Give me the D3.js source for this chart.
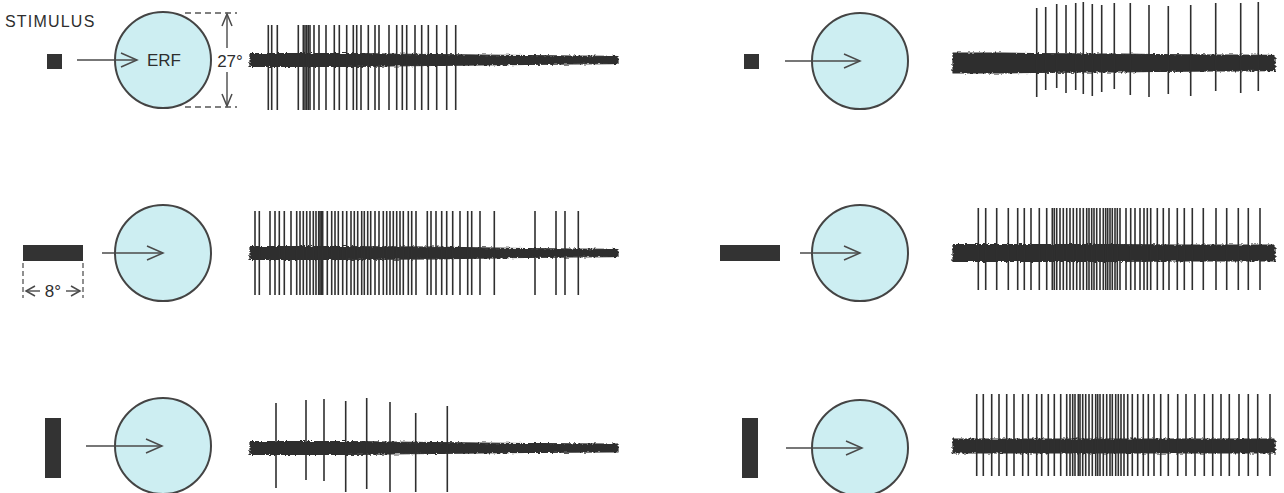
<!DOCTYPE html>
<html lang="en">
<meta charset="utf-8">
<script src="https://cdn.jsdelivr.net/npm/d3@7/dist/d3.min.js"></script>
<style>
body { margin: 0; background: #fff; }
text { font-family: "Liberation Sans", Arial, sans-serif; fill: #2e2e2e; }
</style>
<body>
<script>
// spike times in ms from sweep start
var spikesL1 = [183, 217, 273, 483, 533, 550, 567, 583, 600, 640, 690, 760, 843, 893, 967, 1033, 1067, 1110, 1183, 1250,
    1290, 1390, 1467, 1523, 1567, 1650, 1717, 1783, 1867, 1967, 2057];
var spikesL2 = [50, 93, 200, 250, 293, 343, 410, 467, 500, 533, 567, 600, 633, 660, 687, 700, 713, 727, 773, 817,
    850, 883, 927, 967, 1010, 1043, 1077, 1117, 1143, 1177, 1207, 1250, 1290, 1333, 1367, 1400, 1433, 1467, 1500, 1533,
    1583, 1617, 1660, 1773, 1810, 1860, 1917, 1967, 2027, 2100, 2177, 2217, 2300, 2443, 2850, 3060, 3150, 3283];
var spikesL3 = [260, 560, 740, 957, 1167, 1400, 1657, 1973];
var spikesR1 = [837, 927, 1037, 1130, 1227, 1303, 1393, 1487, 1613, 1773, 1960, 2153, 2377, 2627, 2877, 3053];
var spikesR2 = [253, 327, 437, 553, 647, 713, 780, 863, 937, 993, 1013, 1037, 1070, 1103, 1137, 1170, 1203, 1237, 1270, 1303,
    1337, 1360, 1387, 1410, 1437, 1470, 1503, 1527, 1547, 1570, 1593, 1620, 1643, 1670, 1730, 1777, 1820, 1870, 1910, 1943,
    1977, 2043, 2103, 2160, 2243, 2313, 2393, 2503, 2630, 2737, 2853, 2953, 3070];
var spikesR3 = [237, 303, 387, 460, 537, 610, 697, 753, 837, 887, 953, 1013, 1077, 1137, 1170, 1197, 1220, 1253, 1270, 1297,
    1327, 1360, 1393, 1427, 1447, 1470, 1503, 1537, 1570, 1593, 1627, 1653, 1680, 1710, 1747, 1793, 1847, 1903, 1953, 2010,
    2077, 2153, 2247, 2330, 2420, 2513, 2597, 2680, 2763, 2860, 2953, 3047, 3170];

// spike peak (up) and trough (down) amplitudes, a.u.
var upL3 = [45, 48, 49, 47, 50, 46, 35, 42];
var downL3 = [40, 32, 33, 44, 41, 44, 44, 44];
var upR1 = [55, 56, 59, 58, 60, 61, 59, 58, 60, 60, 58, 57, 58, 60, 60, 61];
var downR1 = [34, 27, 25, 30, 27, 31, 33, 29, 26, 32, 34, 31, 33, 28, 30, 28];

// half-width of the background noise band, sampled evenly along each sweep
var noiseL1 = [6.5, 6.5, 6.5, 6, 5.5, 5, 4.5, 4, 3.5];
var noiseL2 = [6.5, 6.5, 6.5, 6, 6, 5, 4.5, 4, 3.5];
var noiseL3 = [6.5, 6.5, 6.5, 6, 5.5, 5, 4.5, 4, 4];
var noiseR1 = [10, 10, 9.5, 9, 9, 8.5, 8, 8, 7.5];
var noiseR2 = [8.5, 8.5, 8.5, 8.5, 8.5, 8, 8, 8, 8];
var noiseR3 = [7, 7, 7, 7, 7, 7, 7, 7, 7];

var stimuli = ["spot", "horizontal bar", "vertical bar"];

var panels = [
    {col: 0, row: 0, spikes: spikesL1, up: 35, down: 50, noise: noiseL1},
    {col: 0, row: 1, spikes: spikesL2, up: 42, down: 42, noise: noiseL2},
    {col: 0, row: 2, spikes: spikesL3, up: upL3, down: downL3, noise: noiseL3},
    {col: 1, row: 0, spikes: spikesR1, up: upR1, down: downR1, noise: noiseR1},
    {col: 1, row: 1, spikes: spikesR2, up: 45, down: 37, noise: noiseR2},
    {col: 1, row: 2, spikes: spikesR3, up: 52, down: 30, noise: noiseR3}
];

var svg = d3.select("body")
    .append("svg")
    .attr("width", 1284)
    .attr("height", 493);

// slight roughening of the noise band edges, like the scanned trace
var rough = svg.append("defs").append("filter")
    .attr("id", "rough")
    .attr("x", "-2%").attr("y", "-60%")
    .attr("width", "104%").attr("height", "220%");
rough.append("feTurbulence")
    .attr("type", "fractalNoise")
    .attr("baseFrequency", "0.35 0.6")
    .attr("numOctaves", 2)
    .attr("seed", 3)
    .attr("result", "n");
rough.append("feDisplacementMap")
    .attr("in", "SourceGraphic")
    .attr("in2", "n")
    .attr("scale", 3.5)
    .attr("xChannelSelector", "R")
    .attr("yChannelSelector", "G");

var ink = "#2f2f2f";
var xScales = [
    d3.scaleLinear().domain([0, 3680]).range([250, 618]),
    d3.scaleLinear().domain([0, 3220]).range([953, 1275])
];
var baseY = [[60, 253, 448], [63, 253, 446]];
var amp = d3.scaleLinear().domain([-60, 60]).range([60, -60]);

// recordings
panels.forEach(function(p){
    var x = xScales[p.col];
    var dur = x.domain()[1];
    var g = svg.append("g").attr("transform", "translate(0," + baseY[p.col][p.row] + ")");

    var band = d3.area()
        .x(function(d, i){ return x(i * dur / (p.noise.length - 1)); })
        .y0(function(d){ return amp(-d); })
        .y1(function(d){ return amp(d); })
        .curve(d3.curveBasis);
    g.append("path")
        .attr("d", band(p.noise))
        .attr("fill", ink)
        .attr("stroke", ink)
        .attr("stroke-width", 1.2)
        .attr("stroke-linejoin", "round")
        .attr("filter", "url(#rough)");

    g.selectAll(".spike")
        .data(p.spikes)
        .enter()
        .append("line")
        .attr("class", "spike")
        .attr("x1", function(d){ return x(d); })
        .attr("x2", function(d){ return x(d); })
        .attr("y1", function(d, i){ return amp(Array.isArray(p.up) ? p.up[i] : p.up); })
        .attr("y2", function(d, i){ return amp(-(Array.isArray(p.down) ? p.down[i] : p.down)); })
        .attr("stroke", ink)
        .attr("stroke-width", 1.6);
});

// stimulus, receptive field and arrow for each row
var colOffset = [0, 697];
var circleY = [[60, 253, 446], [61, 253, 448]];
var arrowStart = [[77, 102, 86], [785, 800, 786]];
var arrowEnd = [[137, 163, 162], [860, 860, 862]];

function chevron(g, tx, ty, dir, len, half){
    // open arrowhead, dir: angle in degrees the arrow points to
    g.append("path")
        .attr("d", "M" + (-len) + "," + (-half) + "L0,0L" + (-len) + "," + half)
        .attr("transform", "translate(" + tx + "," + ty + ") rotate(" + dir + ")")
        .attr("fill", "none")
        .attr("stroke", "#4a4a4a")
        .attr("stroke-width", 1.5);
}

[0, 1].forEach(function(c){
    stimuli.forEach(function(s, r){
        var g = svg.append("g");
        var cx = 163 + colOffset[c], cy = circleY[c][r];
        g.append("circle")
            .attr("cx", cx).attr("cy", cy).attr("r", 48)
            .attr("fill", "#cdeef2")
            .attr("stroke", "#444")
            .attr("stroke-width", 2);

        var rect;
        if (r == 0) rect = [47, 54, 15, 15];
        else if (r == 1) rect = [23, 245, 60, 16];
        else rect = [45, 418, 16, 60];
        g.append("rect")
            .attr("x", rect[0] + colOffset[c])
            .attr("y", rect[1])
            .attr("width", rect[2])
            .attr("height", rect[3])
            .attr("fill", "#333");

        g.append("line")
            .attr("x1", arrowStart[c][r]).attr("x2", arrowEnd[c][r])
            .attr("y1", cy).attr("y2", cy)
            .attr("stroke", "#4a4a4a")
            .attr("stroke-width", 1.5);
        chevron(g, arrowEnd[c][r], cy, 0, 16, 7);
    });
});

// labels and scale marks of the first column
svg.append("text")
    .attr("x", 5).attr("y", 27)
    .attr("font-size", 16)
    .attr("letter-spacing", 1.2)
    .text("STIMULUS");

svg.append("text")
    .attr("x", 164).attr("y", 66)
    .attr("text-anchor", "middle")
    .attr("font-size", 17)
    .text("ERF");

var dim = svg.append("g");
[13, 107].forEach(function(y){
    dim.append("line")
        .attr("x1", 185).attr("x2", 237)
        .attr("y1", y).attr("y2", y)
        .attr("stroke", "#555")
        .attr("stroke-width", 1.3)
        .attr("stroke-dasharray", "6,4");
});
dim.append("line").attr("x1", 227).attr("x2", 227).attr("y1", 14).attr("y2", 48)
    .attr("stroke", "#4a4a4a").attr("stroke-width", 1.4);
dim.append("line").attr("x1", 227).attr("x2", 227).attr("y1", 72).attr("y2", 106)
    .attr("stroke", "#4a4a4a").attr("stroke-width", 1.4);
chevron(dim, 227, 14, -90, 12, 5);
chevron(dim, 227, 106, 90, 12, 5);
dim.append("text")
    .attr("x", 230).attr("y", 67)
    .attr("text-anchor", "middle")
    .attr("font-size", 17)
    .text("27°");

var w8 = svg.append("g");
[23, 83].forEach(function(x){
    w8.append("line")
        .attr("x1", x).attr("x2", x)
        .attr("y1", 263).attr("y2", 298)
        .attr("stroke", "#555")
        .attr("stroke-width", 1.3)
        .attr("stroke-dasharray", "5,3");
});
w8.append("line").attr("x1", 26).attr("x2", 40).attr("y1", 291).attr("y2", 291)
    .attr("stroke", "#4a4a4a").attr("stroke-width", 1.4);
w8.append("line").attr("x1", 66).attr("x2", 80).attr("y1", 291).attr("y2", 291)
    .attr("stroke", "#4a4a4a").attr("stroke-width", 1.4);
chevron(w8, 26, 291, 180, 9, 5);
chevron(w8, 80, 291, 0, 9, 5);
w8.append("text")
    .attr("x", 53).attr("y", 297)
    .attr("text-anchor", "middle")
    .attr("font-size", 17)
    .text("8°");
</script>
</body>
</html>
